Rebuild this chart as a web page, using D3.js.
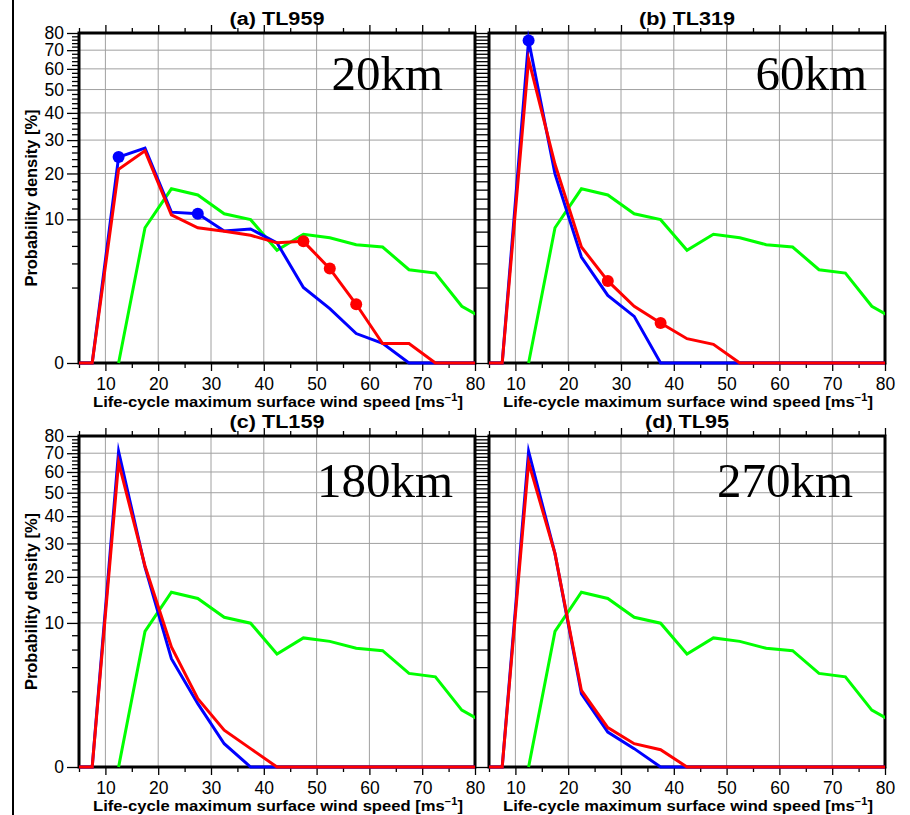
<!DOCTYPE html>
<html><head><meta charset="utf-8">
<script src="https://cdn.jsdelivr.net/npm/d3@7"></script>
<style>body{margin:0;background:#fff} svg{display:block}</style>
</head><body>
<script>
// ---------------- DATA ----------------
const windSpeed = [2.5,7.5,12.5,17.5,22.5,27.5,32.5,37.5,42.5,47.5,52.5,57.5,62.5,67.5,72.5,77.5,82.5];
const obsSpeed   = [12.5,17.5,22.5,27.5,32.5,37.5,42.5,47.5,52.5,57.5,62.5,67.5,72.5,77.5,82.5];
const obsDensity = [0,8.6,16.2,14.8,11.0,9.95,5.45,7.6,7.1,6.16,5.86,3.4,3.1,0.98,0.46];

const blueTL959 = [0,0,24.6,27.4,11.3,11.0,8.1,8.4,6.4,2.0,0.88,0.19,0.07,0,0,0,0];
const redTL959  = [0,0,21.1,26.5,10.8,8.6,8.05,7.45,6.4,6.6,3.5,1.07,0.067,0.067,0,0,0];
const blueTL319 = [0,0,75.6,19.9,4.68,1.52,0.60,0,0,0,0,0,0,0,0,0,0];
const redTL319  = [0,0,65,22.5,5.86,2.47,0.98,0.41,0.118,0.061,0,0,0,0,0,0,0];
const blueTL159 = [0,0,71,22.7,4.9,1.28,0.105,0,0,0,0,0,0,0,0,0,0];
const redTL159  = [0,0,65,23,6.33,1.55,0.33,0.058,0,0,0,0,0,0,0,0,0];
const blueTL95  = [0,0,71,26.7,1.85,0.29,0.058,0,0,0,0,0,0,0,0,0,0];
const redTL95   = [0,0,65,26.7,2.06,0.39,0.105,0.05,0,0,0,0,0,0,0,0,0];

const blueDotsTL959 = [12.5,27.5];
const redDotsTL959  = [47.5,52.5,57.5];
const blueDotsTL319 = [12.5];
const redDotsTL319  = [27.5,37.5];

const panelTitles = ["(a) TL959","(b) TL319","(c) TL159","(d) TL95"];
const resolutionLabels = ["20km","60km","180km","270km"];
const xTickValues = [10,20,30,40,50,60,70,80];
const xMinorTicks = [5,15,25,35,45,55,65,75];
const yTickValues = [0,10,20,30,40,50,60,70,80];
const yMinorTicks = d3.range(0,81,2).filter(v => v % 10 !== 0);
const xAxisTitle = "Life-cycle maximum surface wind speed [ms";
const yAxisTitle = "Probability density [%]";

// ---------------- LAYOUT ----------------
const W = 910, H = 815;
const panels = [
  {left:79, top:33, w:396, h:330, title:panelTitles[0], res:resolutionLabels[0], resEnd:32, resBase:57, blue:blueTL959, red:redTL959, bDots:blueDotsTL959, rDots:redDotsTL959, yLabels:true},
  {left:489, top:33, w:396, h:330, title:panelTitles[1], res:resolutionLabels[1], resEnd:18, resBase:57, blue:blueTL319, red:redTL319, bDots:blueDotsTL319, rDots:redDotsTL319, yLabels:false},
  {left:79, top:436, w:396, h:331, title:panelTitles[2], res:resolutionLabels[2], resEnd:22, resBase:61, blue:blueTL159, red:redTL159, bDots:[], rDots:[], yLabels:true},
  {left:489, top:436, w:396, h:331, title:panelTitles[3], res:resolutionLabels[3], resEnd:32, resBase:61, blue:blueTL95, red:redTL95, bDots:[], rDots:[], yLabels:false}
];

const FONT = "'Liberation Sans', Arial, Helvetica, sans-serif";
const svg = d3.select("body").append("svg").attr("width", W).attr("height", H);

// outer page border line
svg.append("line").attr("x1",13).attr("x2",13).attr("y1",0).attr("y2",H)
  .attr("stroke","#000").attr("stroke-width",2);

panels.forEach((p, i) => {
  const x = d3.scaleLinear().domain([5,80]).range([p.left, p.left + p.w]);
  const y = d3.scalePow().exponent(0.4).domain([0,80]).range([p.top + p.h, p.top]);
  const g = svg.append("g");

  // grid
  g.append("g").selectAll("line").data([10,20,30,40,50,60,70]).join("line")
    .attr("x1", d => x(d)).attr("x2", d => x(d)).attr("y1", p.top).attr("y2", p.top + p.h)
    .attr("stroke","#a0a0a0").attr("stroke-width",1);
  g.append("g").selectAll("line").data([10,20,30,40,50,60,70]).join("line")
    .attr("y1", d => y(d)).attr("y2", d => y(d)).attr("x1", p.left).attr("x2", p.left + p.w)
    .attr("stroke","#a0a0a0").attr("stroke-width",1);

  // axes
  const styleAxis = sel => {
    sel.select(".domain").remove();
    sel.selectAll(".tick line").attr("stroke","#000").attr("stroke-width",1.3);
    sel.selectAll("text").attr("font-family", FONT).attr("font-size", 17.5).attr("fill","#000");
  };
  const bottomY = p.top + p.h;
  g.append("g").attr("transform", `translate(0,${bottomY})`)
    .call(d3.axisBottom(x).tickValues(xTickValues).tickSize(8).tickPadding(7).tickFormat(d3.format("d"))).call(styleAxis);
  g.append("g").attr("transform", `translate(0,${bottomY})`)
    .call(d3.axisBottom(x).tickValues(xMinorTicks).tickSize(5).tickFormat("")).call(styleAxis);
  g.append("g").attr("transform", `translate(0,${p.top})`)
    .call(d3.axisTop(x).tickValues(xTickValues).tickSize(8).tickFormat("")).call(styleAxis);
  g.append("g").attr("transform", `translate(0,${p.top})`)
    .call(d3.axisTop(x).tickValues(xMinorTicks).tickSize(5).tickFormat("")).call(styleAxis);
  if (p.yLabels) {
    g.append("g").attr("transform", `translate(${p.left},0)`)
      .call(d3.axisLeft(y).tickValues(yTickValues).tickSize(12).tickPadding(3).tickFormat(d3.format("d"))).call(styleAxis);
    g.append("g").attr("transform", `translate(${p.left},0)`)
      .call(d3.axisLeft(y).tickValues(yMinorTicks).tickSize(7).tickFormat("")).call(styleAxis);
  } else {
    g.append("g").attr("transform", `translate(${p.left},0)`)
      .call(d3.axisLeft(y).tickValues(yTickValues.concat(yMinorTicks)).tickSize(14).tickFormat("")).call(styleAxis);
  }

  // frame
  g.append("rect").attr("x", p.left).attr("y", p.top).attr("width", p.w).attr("height", p.h)
    .attr("fill","none").attr("stroke","#000").attr("stroke-width",3);

  // clip
  const cid = "clip" + i;
  svg.append("clipPath").attr("id", cid).append("rect")
    .attr("x", p.left).attr("y", p.top - 20).attr("width", p.w).attr("height", p.h + 40);
  const plot = g.append("g").attr("clip-path", `url(#${cid})`);

  const line = d3.line().x(d => x(d[0])).y(d => y(d[1]));
  const series = [
    {xs: obsSpeed, ys: obsDensity, color: "#00ff00"},
    {xs: windSpeed, ys: p.blue, color: "#0000ff"},
    {xs: windSpeed, ys: p.red, color: "#ff0000"}
  ];
  series.forEach(s => {
    plot.append("path").datum(d3.zip(s.xs, s.ys)).attr("d", line)
      .attr("fill","none").attr("stroke", s.color).attr("stroke-width",3)
      .attr("stroke-linejoin","miter").attr("stroke-miterlimit",12);
  });
  const valAt = (arr, xv) => arr[windSpeed.indexOf(xv)];
  plot.selectAll("circle.b").data(p.bDots).join("circle").attr("class","b")
    .attr("cx", d => x(d)).attr("cy", d => y(valAt(p.blue, d))).attr("r", 6).attr("fill","#0000ff");
  plot.selectAll("circle.r").data(p.rDots).join("circle").attr("class","r")
    .attr("cx", d => x(d)).attr("cy", d => y(valAt(p.red, d))).attr("r", 6).attr("fill","#ff0000");

  // title
  const t = g.append("text").attr("x", p.left + p.w/2).attr("y", p.top - 8)
    .attr("text-anchor","middle").attr("font-family", FONT).attr("font-weight","bold")
    .attr("font-size", 18).text(p.title);
  const tl = t.node().getComputedTextLength();
  t.attr("textLength", tl * 1.2).attr("lengthAdjust","spacingAndGlyphs");

  // x axis title
  const xt = g.append("text").attr("x", p.left + p.w/2 + 1).attr("y", bottomY + 44)
    .attr("text-anchor","middle").attr("font-family", FONT).attr("font-weight","bold")
    .attr("font-size", 15);
  xt.append("tspan").text(xAxisTitle);
  xt.append("tspan").attr("dy", -6).attr("font-size", 10).text("\u22121");
  xt.append("tspan").attr("dy", 6).text("]");
  xt.attr("textLength", 370).attr("lengthAdjust","spacingAndGlyphs");

  // y axis title
  if (p.yLabels) {
    g.append("text").attr("transform", `translate(37,${p.top + p.h/2}) rotate(-90)`)
      .attr("text-anchor","middle").attr("font-family", FONT).attr("font-weight","bold")
      .attr("font-size", 16).attr("textLength", 177).attr("lengthAdjust","spacingAndGlyphs")
      .text(yAxisTitle);
  }

  // resolution label
  g.append("text").attr("x", p.left + p.w - p.resEnd).attr("y", p.top + p.resBase)
    .attr("text-anchor","end").attr("font-family","'Liberation Serif','Times New Roman',serif")
    .attr("font-size", 49).attr("fill","#000").text(p.res);
});
</script>
</body></html>
